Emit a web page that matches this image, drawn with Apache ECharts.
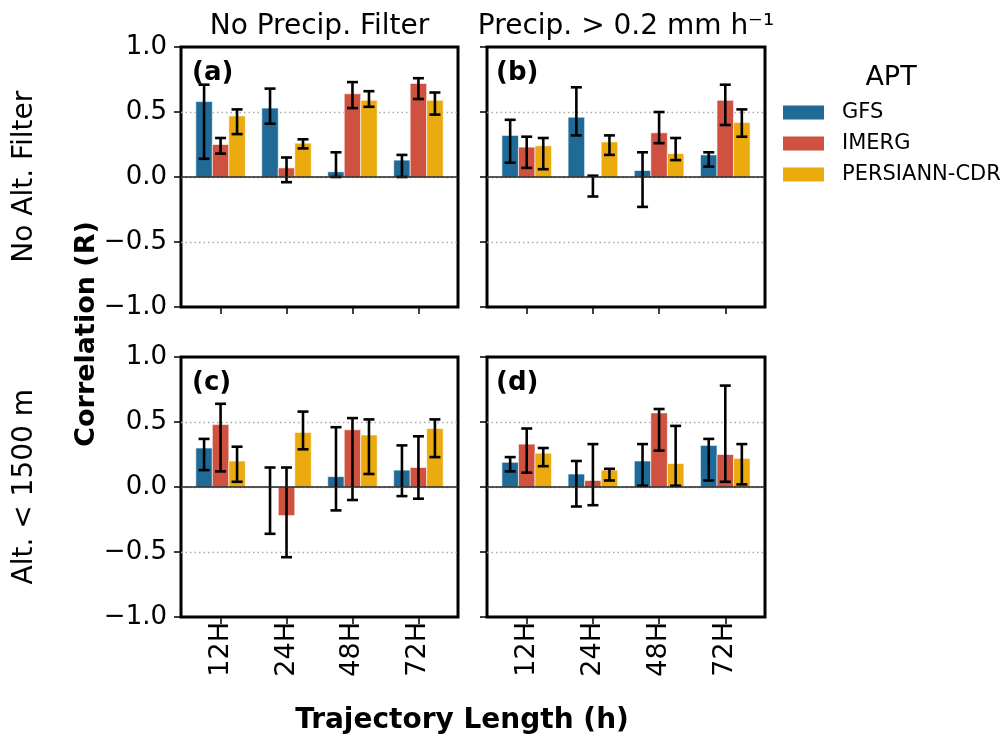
<!DOCTYPE html>
<html><head><meta charset="utf-8">
<script src="https://cdn.jsdelivr.net/npm/echarts@6/dist/echarts.min.js"></script>
<style>html,body{margin:0;padding:0;background:#fff}#c{width:1002px;height:741px}</style>
</head><body><div id="c"></div>
<script>
var categories = ['12H', '24H', '48H', '72H'];
var apts = ['GFS', 'IMERG', 'PERSIANN-CDR'];
var colTitles = ['No Precip. Filter', 'Precip. > 0.2 mm h\u207B\u00B9'];
var rowTitles = ['No Alt. Filter', 'Alt. < 1500 m'];
var panelLabels = ['(a)', '(b)', '(c)', '(d)'];
var yTitle = 'Correlation (R)';
var xTitle = 'Trajectory Length (h)';
var legendTitle = 'APT';

// rows: GFS, IMERG, PERSIANN-CDR ; columns: 12H, 24H, 48H, 72H
var aVal = [[0.58, 0.53, 0.04, 0.13], [0.25, 0.07, 0.64, 0.72], [0.47, 0.26, 0.59, 0.59]];
var aLo  = [[0.14, 0.41, 0.00, 0.00], [0.18, -0.04, 0.53, 0.60], [0.33, 0.22, 0.54, 0.48]];
var aHi  = [[0.71, 0.68, 0.19, 0.17], [0.30, 0.15, 0.73, 0.76], [0.52, 0.29, 0.66, 0.65]];

var bVal = [[0.32, 0.46, 0.05, 0.17], [0.23, 0.00, 0.34, 0.59], [0.24, 0.27, 0.18, 0.42]];
var bLo  = [[0.11, 0.32, -0.23, 0.08], [0.07, -0.15, 0.26, 0.40], [0.06, 0.17, 0.13, 0.31]];
var bHi  = [[0.44, 0.69, 0.19, 0.19], [0.31, 0.01, 0.50, 0.71], [0.30, 0.32, 0.30, 0.52]];

var cVal = [[0.30, -0.005, 0.08, 0.13], [0.48, -0.22, 0.44, 0.15], [0.20, 0.42, 0.40, 0.45]];
var cLo  = [[0.13, -0.36, -0.18, -0.07], [0.12, -0.54, -0.10, -0.09], [0.04, 0.29, 0.10, 0.23]];
var cHi  = [[0.37, 0.15, 0.46, 0.32], [0.64, 0.15, 0.53, 0.39], [0.31, 0.58, 0.52, 0.52]];

var dVal = [[0.19, 0.10, 0.20, 0.32], [0.33, 0.05, 0.57, 0.25], [0.26, 0.13, 0.18, 0.22]];
var dLo  = [[0.12, -0.15, 0.01, 0.05], [0.11, -0.14, 0.28, 0.04], [0.16, 0.05, 0.01, 0.02]];
var dHi  = [[0.23, 0.20, 0.33, 0.37], [0.45, 0.33, 0.60, 0.78], [0.30, 0.14, 0.47, 0.33]];

var panels = [[aVal, aLo, aHi], [bVal, bLo, bHi], [cVal, cLo, cHi], [dVal, dLo, dHi]];

var colors = ['#1f6a97', '#cf5140', '#ebaa0e'];
var barOffsets = [-0.25, 0, 0.25];
var barW = 0.25;
var FONT = 'DejaVu Sans';

var gridPos = [
  {left: 181, top: 47, width: 277, height: 260},
  {left: 487, top: 47, width: 278, height: 260},
  {left: 181, top: 357, width: 277, height: 260},
  {left: 487, top: 357, width: 278, height: 260}
];

function fmtY(v) {
  var s = Math.abs(v).toFixed(1);
  return v < 0 ? '\u2212' + s : s;
}

var grids = [], xAxes = [], yAxes = [], series = [];
gridPos.forEach(function (g, p) {
  grids.push({left: g.left, top: g.top, width: g.width, height: g.height, show: true,
    borderColor: '#000', borderWidth: 3, backgroundColor: 'transparent'});
  var bottomRow = p >= 2, leftCol = p % 2 === 0;
  xAxes.push({type: 'value', gridIndex: p, min: -0.6, max: 3.6, position: 'bottom',
    axisLine: {show: false, onZero: false}, splitLine: {show: false},
    axisTick: {show: true, customValues: [0, 1, 2, 3], length: 7, lineStyle: {color: '#000', width: 1.5}},
    axisLabel: {show: bottomRow, customValues: [0, 1, 2, 3], rotate: 90, margin: 5,
      fontFamily: FONT, fontSize: 27, color: '#000',
      formatter: function (v) { return categories[Math.round(v)]; }}
  });
  yAxes.push({type: 'value', gridIndex: p, min: -1, max: 1, interval: 0.5, position: 'left',
    axisLine: {show: false, onZero: false},
    splitLine: {show: true, showMinLine: false, showMaxLine: false,
      lineStyle: {color: '#aaaaaa', width: 1.3, type: [1.5, 3]}},
    axisTick: {show: true, length: 7, lineStyle: {color: '#000', width: 1.5}},
    axisLabel: {show: leftCol, margin: 14, fontFamily: FONT, fontSize: 26, color: '#000', formatter: fmtY}
  });
  var vals = panels[p][0], los = panels[p][1], his = panels[p][2];
  apts.forEach(function (name, k) {
    var off = barOffsets[k], col = colors[k];
    series.push({type: 'custom', name: name, xAxisIndex: p, yAxisIndex: p, z: 2,
      itemStyle: {color: col},
      data: categories.map(function (c, i) { return [i, vals[k][i], los[k][i], his[k][i]]; }),
      encode: {x: 0, y: [1, 2, 3]},
      renderItem: function (params, api) {
        var x = api.value(0) + off;
        var v = api.value(1), lo = api.value(2), hi = api.value(3);
        var pa = api.coord([x - barW / 2, 0]);
        var pb = api.coord([x + barW / 2, v]);
        var top = Math.min(pa[1], pb[1]), h = Math.abs(pa[1] - pb[1]);
        var pc = api.coord([x, lo]), pd = api.coord([x, hi]);
        var cw = 5.5, lw = 2.6;
        return {type: 'group', children: [
          {type: 'rect', shape: {x: pa[0], y: top, width: pb[0] - pa[0], height: h},
            style: {fill: col, stroke: 'rgba(255,255,255,0.6)', lineWidth: 1}},
          {type: 'line', z2: 5, shape: {x1: pc[0], y1: pc[1], x2: pd[0], y2: pd[1]},
            style: {stroke: '#000', lineWidth: lw}},
          {type: 'line', z2: 5, shape: {x1: pc[0] - cw, y1: pc[1], x2: pc[0] + cw, y2: pc[1]},
            style: {stroke: '#000', lineWidth: lw}},
          {type: 'line', z2: 5, shape: {x1: pd[0] - cw, y1: pd[1], x2: pd[0] + cw, y2: pd[1]},
            style: {stroke: '#000', lineWidth: lw}}
        ]};
      }
    });
  });
  // zero line
  series.push({type: 'custom', xAxisIndex: p, yAxisIndex: p, z: 3, silent: true,
    data: [[0, 0]], encode: {x: 0, y: 1},
    renderItem: function (params, api) {
      var cs = params.coordSys;
      var y = api.coord([0, api.value(1)])[1];
      return {type: 'line', shape: {x1: cs.x, y1: y, x2: cs.x + cs.width, y2: y},
        style: {stroke: '#222', lineWidth: 1.3}};
    }
  });
});

var graphics = [];
function txt(x, y, text, size, opts) {
  opts = opts || {};
  graphics.push({type: 'text', x: x, y: y, rotation: opts.rot || 0, z: 10,
    style: {text: text, fontFamily: FONT, fontSize: size, fontWeight: opts.bold ? 'bold' : 'normal',
      fill: '#000', textAlign: opts.align || 'center', textVerticalAlign: 'middle'}});
}
txt(319.5, 27, colTitles[0], 28);
txt(626, 27, colTitles[1], 28);
txt(25, 176.7, rowTitles[0], 28, {rot: Math.PI / 2});
txt(25, 486.7, rowTitles[1], 28, {rot: Math.PI / 2});
txt(87, 334, yTitle, 27, {rot: Math.PI / 2, bold: true});
txt(462, 721, xTitle, 28, {bold: true});
txt(891, 78, legendTitle, 27);
var lblPos = [[192, 73], [496, 73], [192, 383], [496, 383]];
panelLabels.forEach(function (l, i) { txt(lblPos[i][0], lblPos[i][1], l, 26, {bold: true, align: 'left'}); });

var chart = echarts.init(document.getElementById('c'), null, {renderer: 'canvas'});
chart.setOption({
  animation: false,
  backgroundColor: '#fff',
  grid: grids,
  xAxis: xAxes,
  yAxis: yAxes,
  legend: {data: apts, orient: 'vertical', left: 783, top: 102, icon: 'rect',
    itemWidth: 41, itemHeight: 14, itemGap: 10, padding: 0,
    textStyle: {fontFamily: FONT, fontSize: 21, color: '#000', padding: [0, 0, 0, 13]}},
  series: series,
  graphic: graphics
});
</script>
</body></html>
